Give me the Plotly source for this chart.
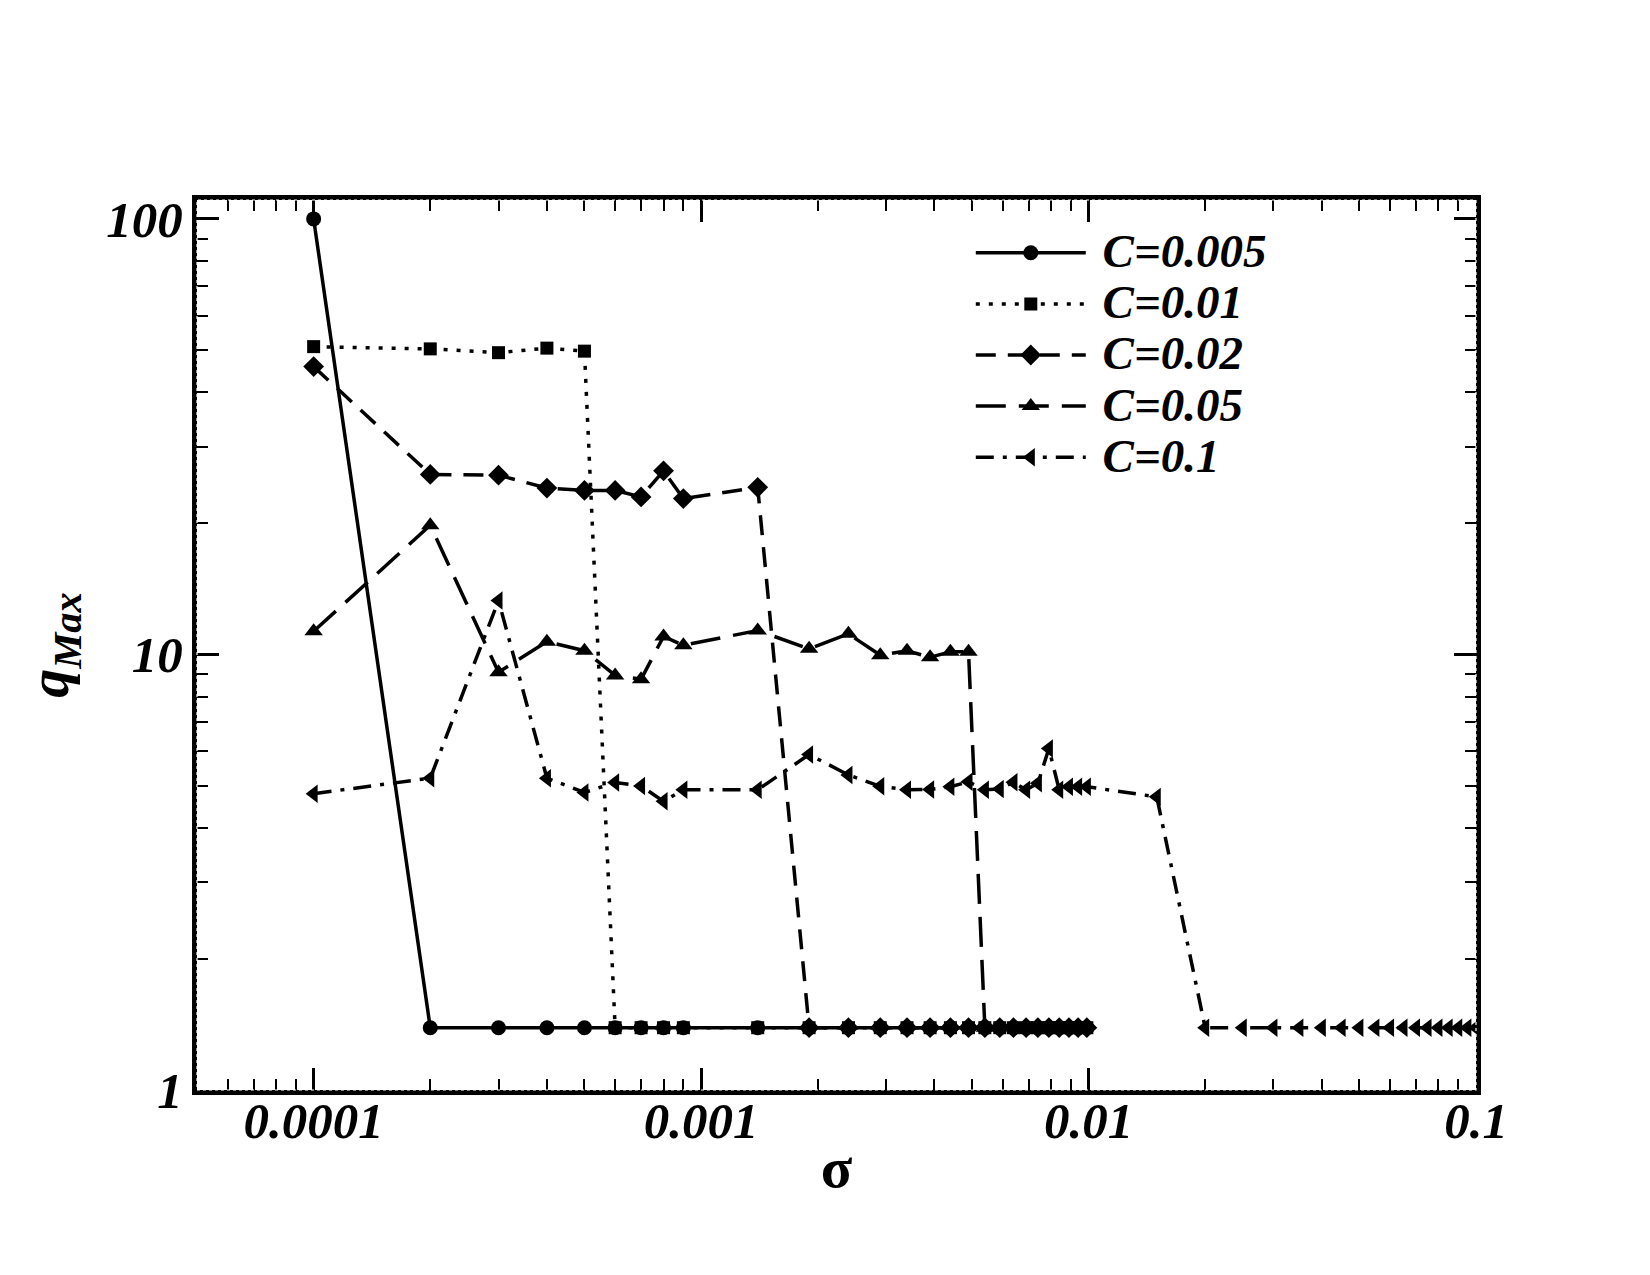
import plotly.graph_objects as go

# ---------------- data ----------------
sigma = [0.0001, 0.0002, 0.0003, 0.0004, 0.0005, 0.0006, 0.0007, 0.0008, 0.0009,
         0.0014, 0.0019, 0.0024, 0.0029, 0.0034, 0.0039, 0.0044, 0.0049,
         0.0054, 0.0059, 0.0064, 0.0069, 0.0074, 0.0079, 0.0084, 0.0089, 0.0094, 0.0099]

sigma_c01 = sigma + [0.015, 0.02, 0.025, 0.03, 0.035, 0.04, 0.045, 0.05, 0.055,
                     0.06, 0.065, 0.07, 0.075, 0.08, 0.085, 0.09, 0.095, 0.1]

q_c0005 = [100, 1.39, 1.39, 1.39, 1.39, 1.39, 1.39, 1.39, 1.39,
           1.39, 1.39, 1.39, 1.39, 1.39, 1.39, 1.39, 1.39,
           1.39, 1.39, 1.39, 1.39, 1.39, 1.39, 1.39, 1.39, 1.39, 1.39]

q_c001 = [50.9, 50.3, 49.3, 50.5, 49.7, 1.39, 1.39, 1.39, 1.39,
          1.39, 1.39, 1.39, 1.39, 1.39, 1.39, 1.39, 1.39,
          1.39, 1.39, 1.39, 1.39, 1.39, 1.39, 1.39, 1.39, 1.39, 1.39]

q_c002 = [45.8, 25.9, 25.8, 24.1, 23.8, 23.8, 23.0, 26.4, 22.8,
          24.2, 1.39, 1.39, 1.39, 1.39, 1.39, 1.39, 1.39,
          1.39, 1.39, 1.39, 1.39, 1.39, 1.39, 1.39, 1.39, 1.39, 1.39]

q_c005 = [11.3, 19.8, 9.1, 10.7, 10.2, 8.95, 8.77, 11.0, 10.5,
          11.35, 10.3, 11.15, 9.96, 10.2, 9.85, 10.15, 10.15,
          1.39]

q_c01 = [4.79, 5.2, 13.3, 5.2, 4.82, 5.08, 4.99, 4.6, 4.89,
         4.89, 5.89, 5.29, 4.98, 4.89, 4.9, 4.97, 5.1,
         4.89, 4.91, 5.09, 4.89, 5.06, 6.08, 4.89, 4.97, 4.97, 4.97,
         4.71, 1.39, 1.39, 1.39, 1.39, 1.39, 1.39, 1.39, 1.39, 1.39,
         1.39, 1.39, 1.39, 1.39, 1.39, 1.39, 1.39, 1.39]

labels = ["C=0.005", "C=0.01", "C=0.02", "C=0.05", "C=0.1"]

x_major = [0.0001, 0.001, 0.01, 0.1]
x_major_text = ["0.0001", "0.001", "0.01", "0.1"]
x_minor = [6e-5, 7e-5, 8e-5, 9e-5,
           2e-4, 3e-4, 4e-4, 5e-4, 6e-4, 7e-4, 8e-4, 9e-4,
           2e-3, 3e-3, 4e-3, 5e-3, 6e-3, 7e-3, 8e-3, 9e-3,
           2e-2, 3e-2, 4e-2, 5e-2, 6e-2, 7e-2, 8e-2, 9e-2]
y_major = [1, 10, 100]
y_major_text = ["1", "10", "100"]
y_minor = [2, 3, 4, 5, 6, 7, 8, 9, 20, 30, 40, 50, 60, 70, 80, 90]

# ---------------- styling ----------------
SERIF = "Liberation Serif"
series = [
    (sigma, q_c0005, "solid", "circle", 15),
    (sigma, q_c001, "4px,9px", "square", 13),
    (sigma, q_c002, "20px,12px", "diamond", 16),
    (sigma[:len(q_c005)], q_c005, "30px,13px", "triangle-up", 16),
    (sigma_c01, q_c01, "18px,9px,4px,9px", "triangle-left", 16),
]

fig = go.Figure()
for (xs, ys, dash, sym, msize), name in zip(series, labels):
    fig.add_trace(go.Scatter(
        x=xs, y=ys, mode="lines+markers",
        name='<span style="font-size:47px">&nbsp;' + name + '</span>',
        line=dict(color="black", width=3.5, dash=dash),
        marker=dict(symbol=sym, size=msize, color="black"),
    ))

axis_common = dict(
    type="log", showgrid=False, zeroline=False,
    showline=True, linecolor="black", linewidth=5, mirror="ticks",
    ticks="inside", ticklen=22, tickwidth=3, tickcolor="black",
    tickfont=dict(family=SERIF, size=51, color="black", weight="bold", style="italic"),
)

fig.update_layout(
    width=1650, height=1275,
    paper_bgcolor="white", plot_bgcolor="white",
    margin=dict(l=189, r=182, t=192, b=193),
    showlegend=True,
    legend=dict(
        x=0.605, y=0.975, xanchor="left", yanchor="top",
        bgcolor="rgba(0,0,0,0)", borderwidth=0,
        font=dict(family=SERIF, size=37, color="black", weight="bold", style="italic"),
        itemwidth=110, tracegroupgap=0,
    ),
    xaxis=dict(
        **axis_common,
        range=[-4.30103, -1],
        tickmode="array", tickvals=x_major, ticktext=x_major_text,
        ticklabelstandoff=-18,
        minor=dict(tickmode="array", tickvals=x_minor, ticks="inside",
                   ticklen=11, tickwidth=2, tickcolor="black", showgrid=False),
        title=dict(text="σ", standoff=0,
                   font=dict(family=SERIF, size=58, color="black", weight="bold")),
    ),
    yaxis=dict(
        **axis_common,
        range=[0, 2.0434],
        tickmode="array", tickvals=y_major, ticktext=y_major_text,
        ticklabelstandoff=-1,
        minor=dict(tickmode="array", tickvals=y_minor, ticks="inside",
                   ticklen=11, tickwidth=2, tickcolor="black", showgrid=False),
        title=dict(text="q<sub>Max</sub>", standoff=20,
                   font=dict(family=SERIF, size=58, color="black", weight="bold", style="italic")),
    ),
    shapes=[dict(type="rect", xref="paper", yref="paper", x0=0, x1=1, y0=0, y1=1,
                 line=dict(color="white", width=1.2, dash="dot"), layer="above")],
)

fig.write_html("out.html")
